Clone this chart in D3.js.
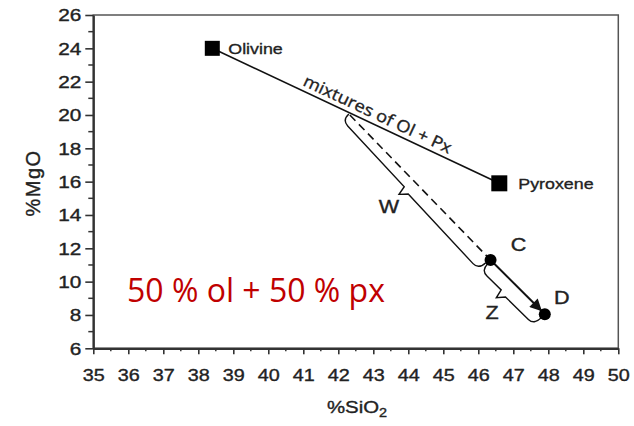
<!DOCTYPE html>
<html><head><meta charset="utf-8">
<script src="https://cdn.jsdelivr.net/npm/d3@7/dist/d3.min.js"></script>
<style>
body{margin:0;background:#fff;}
text{font-family:"Liberation Sans",Arial,sans-serif;fill:#222;}
.blk{stroke:#222;stroke-width:0.35px;}
</style></head>
<body><svg id="c" width="634" height="426"></svg>
<script>
// ---- data ----
const xTicks = [35,36,37,38,39,40,41,42,43,44,45,46,47,48,49,50];
const yTicks = [6,8,10,12,14,16,18,20,22,24,26];
const endNames = ["Olivine","Pyroxene"];
const endSiO2 = [38.4, 46.6];
const endMgO  = [24.0, 15.9];
const mixSiO2 = 42.33, mixMgO = 20.0;            // 50/50 mixture on Ol-Px line
const ptNames = ["C","D"];
const ptSiO2 = [46.35, 47.9];
const ptMgO  = [11.3, 8.05];
const braceNames = ["W","Z"];
const annotation = "50 % ol + 50 % px";
const mixLabel = "mixtures of Ol + Px";

// ---- layout ----
const svg = d3.select("#c");
const L = 93.3, R = 618.3, T = 15, B = 348.3;
const x = d3.scaleLinear().domain([35,50]).range([L,R]);
const y = d3.scaleLinear().domain([6,26]).range([B,T]);
const SX = 1.2;

// frame
svg.append("rect").attr("x",L).attr("y",T).attr("width",R-L).attr("height",B-T)
  .attr("fill","none").attr("stroke","#555").attr("stroke-width",1.5);

// minor ticks
const yMinor = d3.range(7,26,2);
svg.append("g").selectAll("line").data(yMinor).join("line")
  .attr("x1",L-5).attr("x2",L).attr("y1",d=>y(d)).attr("y2",d=>y(d))
  .attr("stroke","#333").attr("stroke-width",1.5);
const xMinor = d3.range(35.5,50,1);
svg.append("g").selectAll("line").data(xMinor).join("line")
  .attr("x1",d=>x(d)).attr("x2",d=>x(d)).attr("y1",B).attr("y2",B+3)
  .attr("stroke","#333").attr("stroke-width",1.5);

// axes
const gy = svg.append("g").attr("transform",`translate(${L},0)`)
  .call(d3.axisLeft(y).tickValues(yTicks).tickSize(8).tickSizeOuter(0).tickFormat(d3.format("d")));
const gx = svg.append("g").attr("transform",`translate(0,${B})`)
  .call(d3.axisBottom(x).tickValues(xTicks).tickSize(6).tickSizeOuter(0).tickFormat(d3.format("d")));
[gx,gy].forEach(g=>{
  g.select(".domain").attr("stroke","#333").attr("stroke-width",2.2);
  g.selectAll(".tick line").attr("stroke","#333").attr("stroke-width",1.6);
  g.selectAll(".tick text").style("font-family","'Liberation Sans',Arial,sans-serif")
    .attr("fill","#222").attr("class","blk");
});
gy.selectAll(".tick text").attr("x",null).attr("dy","0.36em").attr("font-size",16)
  .attr("transform",`translate(-12,0) scale(${SX+0.1},1)`);
gx.selectAll(".tick text").attr("y",null).attr("dy","0.36em").attr("font-size",16.5)
  .attr("transform",`translate(0,27) scale(${SX},1)`);

// axis titles
svg.append("text").attr("class","blk").attr("transform","translate(40,183) rotate(-90)")
  .attr("text-anchor","middle").attr("font-size",20).attr("letter-spacing",1.5).text("%MgO");
const xt = svg.append("text").attr("class","blk").attr("transform","translate(357,413) scale(1.2,1)")
  .attr("text-anchor","middle").attr("font-size",17);
xt.append("tspan").text("%SiO");
xt.append("tspan").attr("font-size",12).attr("dy",4).text("2");

// Ol-Px mixing line
svg.append("line").attr("x1",x(endSiO2[0])).attr("y1",y(endMgO[0]))
  .attr("x2",x(endSiO2[1])).attr("y2",y(endMgO[1])).attr("stroke","#111").attr("stroke-width",1.6);

// mixture label along line
const ang = Math.atan2(y(endMgO[1])-y(endMgO[0]), x(endSiO2[1])-x(endSiO2[0]))*180/Math.PI;
{
  const px = 298, t = (px - x(endSiO2[0]))/(x(endSiO2[1])-x(endSiO2[0]));
  const py = y(endMgO[0]) + t*(y(endMgO[1])-y(endMgO[0]));
  svg.append("text").attr("class","blk").attr("transform",`translate(${px},${py}) rotate(${ang})`)
    .attr("x",2).attr("y",-5).attr("font-size",16.5).attr("textLength",162)
    .attr("lengthAdjust","spacingAndGlyphs")
    .style("font-family","'Open Sans',sans-serif").text(mixLabel);
}

// dashed line mixture -> C
svg.append("line").attr("x1",x(mixSiO2)).attr("y1",y(mixMgO))
  .attr("x2",x(ptSiO2[0])).attr("y2",y(ptMgO[0]))
  .attr("stroke","#111").attr("stroke-width",1.6).attr("stroke-dasharray","8,5");

// arrow C -> D
svg.append("defs").append("marker").attr("id","ah").attr("viewBox","0 0 10 10")
  .attr("refX",10).attr("refY",5).attr("markerWidth",19).attr("markerHeight",12)
  .attr("markerUnits","userSpaceOnUse").attr("orient","auto")
  .append("path").attr("d","M0,0L10,5L0,10Z").attr("fill","#111");
{
  const x0=x(ptSiO2[0]), y0=y(ptMgO[0]), x1=x(ptSiO2[1]), y1=y(ptMgO[1]);
  const len=Math.hypot(x1-x0,y1-y0), ux=(x1-x0)/len, uy=(y1-y0)/len;
  svg.append("line").attr("x1",x0).attr("y1",y0).attr("x2",x1-ux*4).attr("y2",y1-uy*4)
    .attr("stroke","#111").attr("stroke-width",2).attr("marker-end","url(#ah)");
}

// braces (lower-left side of each segment)
function brace(p0,p1,d,tip,r,frac){
  const dx=p1[0]-p0[0], dy=p1[1]-p0[1], len=Math.hypot(dx,dy);
  const u=[dx/len,dy/len], n=[-u[1],u[0]];
  const P=(s,o)=>[p0[0]+u[0]*s+n[0]*o, p0[1]+u[1]*s+n[1]*o];
  const m=len*frac;
  const pts=[
    "M",P(0,0),
    "Q",P(0,d),P(r,d),
    "L",P(m-4,d),
    "L",P(m-2,d+tip),
    "L",P(m+4,d+2),
    "L",P(len-r,d+2),
    "Q",P(len,d+2),P(len,1)
  ];
  return pts.map(v=>Array.isArray(v)?v.join(","):v).join(" ");
}
const braceStart=[[x(mixSiO2)-1,y(mixMgO)-1],[x(ptSiO2[0])-3,y(ptMgO[0])+4]];
const braceEnd=[[x(ptSiO2[0])-4,y(ptMgO[0])+2],[x(ptSiO2[1])-3,y(ptMgO[1])+3]];
const braceFrac=[0.47,0.42];
braceNames.forEach((nm,i)=>{
  svg.append("path").attr("d",brace(braceStart[i],braceEnd[i],9,9,8,braceFrac[i]))
    .attr("fill","none").attr("stroke","#111").attr("stroke-width",1.4);
});
const braceLblX=[389,492], braceLblY=[207,313];
braceNames.forEach((nm,i)=>{
  svg.append("text").attr("class","blk").attr("transform",`translate(${braceLblX[i]},${braceLblY[i]}) scale(${SX},1)`)
    .attr("text-anchor","middle").attr("dy","0.36em").attr("font-size",18).text(nm);
});

// endmember squares + labels
endNames.forEach((nm,i)=>{
  const s = i===0?15:16;
  svg.append("rect").attr("x",x(endSiO2[i])-s/2).attr("y",y(endMgO[i])-s/2)
    .attr("width",s).attr("height",s).attr("fill","#000");
  svg.append("text").attr("class","blk").attr("transform",`translate(${x(endSiO2[i])+(i===0?16:19)},${y(endMgO[i])}) scale(1.15,1)`)
    .attr("dy","0.36em").attr("font-size",15.5).text(nm);
});

// points C, D
ptNames.forEach((nm,i)=>{
  svg.append("circle").attr("cx",x(ptSiO2[i])).attr("cy",y(ptMgO[i])).attr("r",6).attr("fill","#000");
});
const ptLblDx=[28,17], ptLblDy=[-15,-17];
ptNames.forEach((nm,i)=>{
  svg.append("text").attr("class","blk").attr("transform",`translate(${x(ptSiO2[i])+ptLblDx[i]},${y(ptMgO[i])+ptLblDy[i]}) scale(${SX},1)`)
    .attr("text-anchor","middle").attr("dy","0.36em").attr("font-size",18).text(nm);
});

// red annotation
svg.append("text").attr("x",127).attr("y",302).attr("font-size",32)
  .style("font-family","'Open Sans',sans-serif").style("fill","#C00000").text(annotation);
</script></body></html>
